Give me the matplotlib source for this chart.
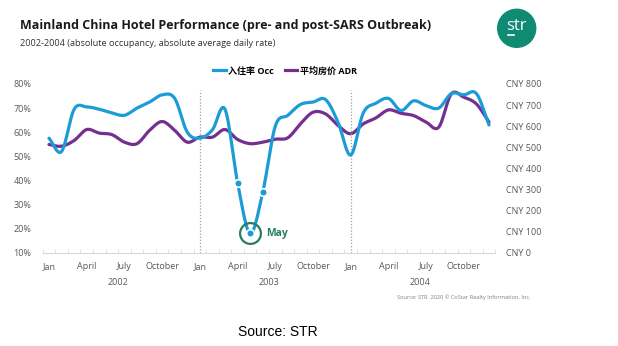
import numpy as np
import matplotlib.pyplot as plt
from matplotlib.patches import Ellipse

# Monthly data Jan 2002 - Dec 2004
occ = [57.5, 52, 69.5, 70.5, 69.5, 68, 67, 70, 72.5, 75.5, 74, 60,
       57.5, 61, 69.5, 39, 18, 35, 62.5, 67, 71.5, 72.5, 73.5, 64,
       50.5, 68, 72, 74, 69, 73, 71, 70, 76, 75.5, 76, 63]
adr = [513, 505, 532, 584, 567, 560, 524, 517, 580, 622, 580, 524,
       548, 548, 584, 537, 517, 524, 538, 545, 611, 666, 658, 603,
       564, 611, 639, 677, 661, 650, 619, 595, 753, 737, 705, 619]
years = ["2002", "2003", "2004"]
month_labels = ["Jan", "April", "July", "October"]
occ_ticks = [10, 20, 30, 40, 50, 60, 70, 80]
adr_ticks = [0, 100, 200, 300, 400, 500, 600, 700, 800]
marked = [15, 16, 17]   # Apr, May, Jun 2003
low_month = 16

BLUE = "#1c9cd6"
PURPLE = "#73308f"
GREEN = "#2a7d5c"
GREY = "#595959"
FONT = ["Open Sans", "Noto Sans CJK SC"]


def smooth(y, n=12):
    # Catmull-Rom curve through the points, like Excel's smoothed line
    y = np.asarray(y, float)
    p = np.concatenate([[2 * y[0] - y[1]], y, [2 * y[-1] - y[-2]]])
    xs, ys = [], []
    for i in range(len(y) - 1):
        p0, p1, p2, p3 = p[i], p[i + 1], p[i + 2], p[i + 3]
        t = np.linspace(0, 1, n, endpoint=False)
        v = 0.5 * (2 * p1 + (-p0 + p2) * t + (2 * p0 - 5 * p1 + 4 * p2 - p3) * t ** 2
                   + (-p0 + 3 * p1 - 3 * p2 + p3) * t ** 3)
        xs.append(i + t)
        ys.append(v)
    xs.append([len(y) - 1])
    ys.append([y[-1]])
    return np.concatenate(xs), np.concatenate(ys)


plt.rcParams['font.family'] = FONT

fig = plt.figure(figsize=(6.18, 3.46), dpi=100)
ax = fig.add_axes([0.0691, 0.2697, 0.7324, 0.4876])
ax2 = ax.twinx()

x = np.arange(len(occ))
ax.set_xlim(-0.5, len(occ) - 0.5)
ax.set_ylim(10, 80)
ax2.set_ylim(0, 800)

# year separators
for xv in [12, 24]:
    ax.plot([xv, xv], [10, 77.5], color="#a0a0a0", lw=0.9, ls=(0, (1, 1.5)), zorder=1)

sx, sy = smooth(adr)
ax2.plot(sx, sy, color=PURPLE, lw=2.3, solid_capstyle="round", zorder=2)
sx, sy = smooth(occ)
ax.plot(sx, sy, color=BLUE, lw=2.3, solid_capstyle="round", zorder=3)
ax.set_zorder(ax2.get_zorder() + 1)
ax.patch.set_visible(False)

ax.plot(x[marked], np.array(occ)[marked], "o", color=BLUE, ms=5.5,
        mec="white", mew=1.2, zorder=4)
ax.plot(x[low_month], occ[low_month], "o", ms=15, mfc="none", mec=GREEN,
        mew=1.6, zorder=5)
ax.text(x[low_month] + 1.25, occ[low_month], "May", color=GREEN, fontsize=7.5,
        fontweight="bold", va="center", ha="left")

# axes styling
for a in (ax, ax2):
    for s in a.spines.values():
        s.set_visible(False)
ax.spines["bottom"].set_visible(True)
ax.spines["bottom"].set_color("#d9d9d9")

ax.set_yticks(occ_ticks)
ax.set_yticklabels([f"{v}%" for v in occ_ticks])
ax2.set_yticks(adr_ticks)
ax2.set_yticklabels([f"CNY {v}" for v in adr_ticks])
ax.tick_params(axis="y", length=0, pad=8, labelsize=6.5, labelcolor=GREY)
ax2.tick_params(axis="y", length=0, pad=8, labelsize=6.5, labelcolor=GREY)

major = [yr * 12 + m for yr in range(len(years)) for m in (0, 3, 6, 9)]
ax.set_xticks(major)
ax.set_xticklabels(month_labels * len(years))
ax.set_xticks(np.arange(-0.5, len(occ), 1), minor=True)
ax.tick_params(axis="x", which="major", length=0, pad=7, labelsize=6.5, labelcolor=GREY)
ax.tick_params(axis="x", which="minor", length=3, direction="in", color="#d9d9d9")

for i, yr in enumerate(years):
    ax.text(i * 12 + 5.5, -0.174, yr, transform=ax.get_xaxis_transform(),
            ha="center", va="center", fontsize=6.5, color=GREY)

# legend
h1, = ax.plot([], [], color=BLUE, lw=2.3)
h2, = ax.plot([], [], color=PURPLE, lw=2.3)
fig.legend([h1, h2], ["入住率 Occ", "平均房价 ADR"], loc="center",
           bbox_to_anchor=(285 / 618, 1 - 71 / 346), ncol=2, frameon=False,
           handlelength=1.4, handletextpad=0.3, columnspacing=1.2,
           prop={"family": FONT, "size": 6.5, "weight": "bold"})

# titles
fig.text(20 / 618, 1 - 25 / 346, "Mainland China Hotel Performance (pre- and post-SARS Outbreak)",
         fontsize=9, fontweight="bold", color="#1a1a1a", va="center")
fig.text(20 / 618, 1 - 44 / 346, "2002-2004 (absolute occupancy, absolute average daily rate)",
         fontsize=6.6, color="#333333", va="center")

# STR logo
cx, cy = 516.7 / 618, 1 - 28.3 / 346
logo = Ellipse((cx, cy), 38 / 618, 38 / 346, transform=fig.transFigure,
               color="#0f8a73", zorder=10)
fig.patches.append(logo)
fig.text(cx, cy + 2 / 346, "str", color="white", fontsize=12,
         ha="center", va="center", zorder=11)
fig.lines.append(plt.Line2D([cx - 9 / 618, cx - 3 / 618], [cy - 7 / 346, cy - 7 / 346],
                            transform=fig.transFigure, color="white", lw=1.2, zorder=11))

fig.text(397 / 618, 1 - 297 / 346, "Source: STR. 2020 © CoStar Realty Information, Inc.",
         fontsize=4.1, color="#7f7f7f", va="center")
fig.text(278 / 618, 1 - 332 / 346, "Source: STR", fontsize=10, color="black",
         ha="center", va="center", family="Liberation Sans")

fig.savefig("out.png", dpi=100)
